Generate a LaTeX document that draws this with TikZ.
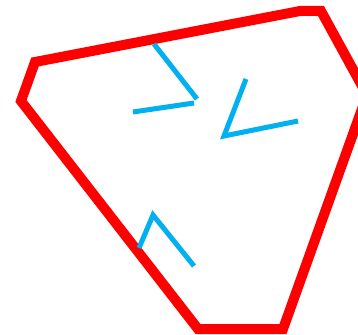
\documentclass[tikz,border=0pt]{standalone}
\definecolor{polyred}{RGB}{255,0,0}
\definecolor{chevblue}{RGB}{0,176,240}
\begin{document}
\begin{tikzpicture}[x=1pt,y=-1pt,
  outline/.style={draw=polyred,line width=10pt,line join=miter},
  chevron/.style={draw=chevblue,line width=5pt,line join=miter}]
\useasboundingbox (0,0) rectangle (358,334);
\clip (0,0) rectangle (358,334);
\fill[white] (0,0) rectangle (358,334);
\draw[outline] (35,62) -- (300,11) -- (321,11) -- (367,95) -- (283,329) -- (198,329) -- (21,101) -- cycle;
\draw[chevron] (154,44) -- (197,99);
\draw[chevron] (194,103) -- (133,112);
\draw[chevron] (246,79) -- (224,136) -- (298,121);
\draw[chevron] (139,248) -- (153,215) -- (194,266);
\end{tikzpicture}
\end{document}
